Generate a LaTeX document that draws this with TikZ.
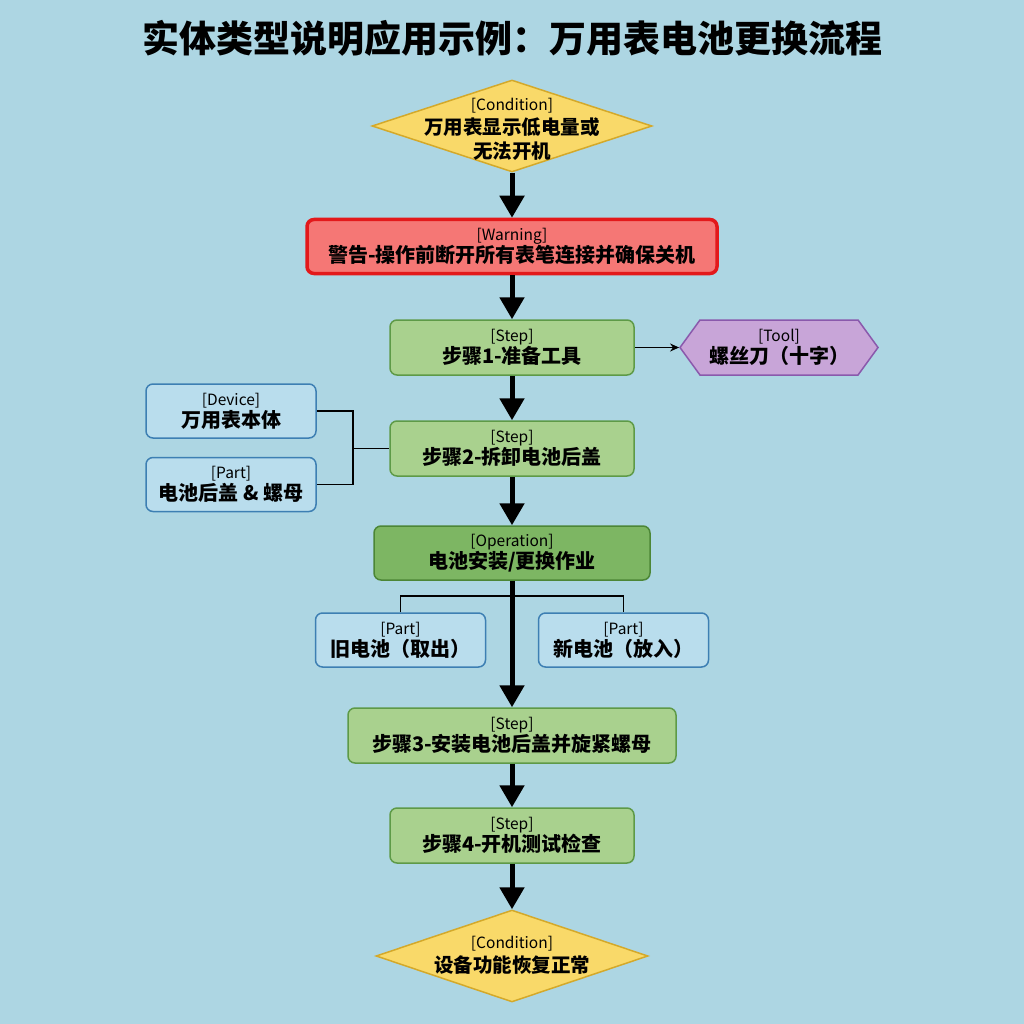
\documentclass[tikz,border=0pt]{standalone}
\usepackage{fontspec}
\setmainfont{Noto Sans CJK SC}
\usetikzlibrary{arrows.meta,shapes.geometric,shapes.symbols}
\definecolor{bg}{HTML}{ADD6E3}
\definecolor{condfill}{HTML}{F9D969}
\definecolor{conddraw}{HTML}{D4A92A}
\definecolor{warnfill}{HTML}{F57775}
\definecolor{warndraw}{HTML}{E3191B}
\definecolor{stepfill}{HTML}{A9D18E}
\definecolor{stepdraw}{HTML}{5E9A47}
\definecolor{opfill}{HTML}{7DB663}
\definecolor{opdraw}{HTML}{4C8636}
\definecolor{partfill}{HTML}{B9DDED}
\definecolor{partdraw}{HTML}{3D7FB3}
\definecolor{toolfill}{HTML}{C8A5D8}
\definecolor{tooldraw}{HTML}{8A59AC}
\newcommand{\lbl}[2]{{\fontsize{15.5}{17}\selectfont\mdseries #1}\\#2}
\tikzset{
  every node/.style={align=center, text=black},
  txt/.style={font=\fontsize{20}{22}\selectfont\bfseries},
  condtxt/.style={font=\fontsize{19.5}{24}\selectfont\bfseries},
  cond/.style={diamond, draw=conddraw, fill=condfill, line width=1.5pt, inner sep=0pt},
  warnbox/.style={txt, rectangle, rounded corners=7pt, draw=warndraw, fill=warnfill, line width=3.5pt, minimum width=410pt, minimum height=54pt},
  stepbox/.style={txt, rectangle, rounded corners=7pt, draw=stepdraw, fill=stepfill, line width=1.5pt, minimum height=55pt},
  opbox/.style={txt, rectangle, rounded corners=7pt, draw=opdraw, fill=opfill, line width=1.5pt, minimum height=54pt},
  partbox/.style={txt, rectangle, rounded corners=7pt, draw=partdraw, fill=partfill, line width=1.5pt, minimum width=170pt, minimum height=54pt},
  toolbox/.style={signal, signal to=east and west, signal pointer angle=108, draw=tooldraw, fill=toolfill, line width=1.5pt, minimum width=198pt, minimum height=55pt, inner sep=0pt},
  flow/.style={line width=5pt, -{Triangle[length=22pt,width=24pt]}},
  thin/.style={line width=1.2pt},
  thinarrow/.style={line width=1.2pt, -{Stealth[length=9pt,width=8pt]}}
}
\begin{document}
\begin{tikzpicture}[x=1pt,y=-1pt]
\fill[bg] (0,0) rectangle (1024,1024);
\useasboundingbox (0,0) rectangle (1024,1024);
\node[font=\fontsize{37}{40}\selectfont\bfseries] (title) at (512,38) {实体类型说明应用示例：万用表电池更换流程};
% nodes
\node[cond, minimum width=280pt, minimum height=92pt] (c1) at (512,126) {};
\node[condtxt] (c1t) at (512,129) {\lbl{[Condition]}{万用表显示低电量或}\\无法开机};
\node[warnbox] (warn) at (512,246.5) {\lbl{[Warning]}{警告-操作前断开所有表笔连接并确保关机}};
\node[stepbox, minimum width=244pt] (s1) at (512,347.5) {\lbl{[Step]}{步骤1-准备工具}};
\node[toolbox] (tool) at (779,347.5) {};
\node[txt] (toolt) at (779,347.5) {\lbl{[Tool]}{螺丝刀（十字）}};
\node[partbox] (dev) at (231,411) {\lbl{[Device]}{万用表本体}};
\node[partbox] (cover) at (231,484.5) {\lbl{[Part]}{电池后盖 \& 螺母}};
\node[stepbox, minimum width=244pt] (s2) at (512,448.5) {\lbl{[Step]}{步骤2-拆卸电池后盖}};
\node[opbox, minimum width=276pt] (op) at (512,553) {\lbl{[Operation]}{电池安装/更换作业}};
\node[partbox] (old) at (400.5,640) {\lbl{[Part]}{旧电池（取出）}};
\node[partbox] (new) at (623.5,640) {\lbl{[Part]}{新电池（放入）}};
\node[stepbox, minimum width=328pt] (s3) at (512,735.5) {\lbl{[Step]}{步骤3-安装电池后盖并旋紧螺母}};
\node[stepbox, minimum width=244pt] (s4) at (512,835.5) {\lbl{[Step]}{步骤4-开机测试检查}};
\node[cond, minimum width=272pt, minimum height=92pt] (c2) at (512,956) {};
\node[condtxt] (c2t) at (512,955) {\lbl{[Condition]}{设备功能恢复正常}};
% connectors
\coordinate (jL) at (353,448.5);
\coordinate (jO) at (512,596);
\draw[flow] (c1.south) -- (warn.north);
\draw[flow] (warn.south) -- (s1.north);
\draw[thinarrow] (s1.east) -- (tool.west);
\draw[flow] (s1.south) -- (s2.north);
\draw[thin] (dev.east) -| (jL) |- (cover.east);
\draw[thin] (jL) -- (s2.west);
\draw[flow] (s2.south) -- (op.north);
\draw[thin] (old.north) |- (jO) -| (new.north);
\draw[flow] (op.south) -- (s3.north);
\draw[flow] (s3.south) -- (s4.north);
\draw[flow] (s4.south) -- (c2.north);
\end{tikzpicture}
\end{document}
